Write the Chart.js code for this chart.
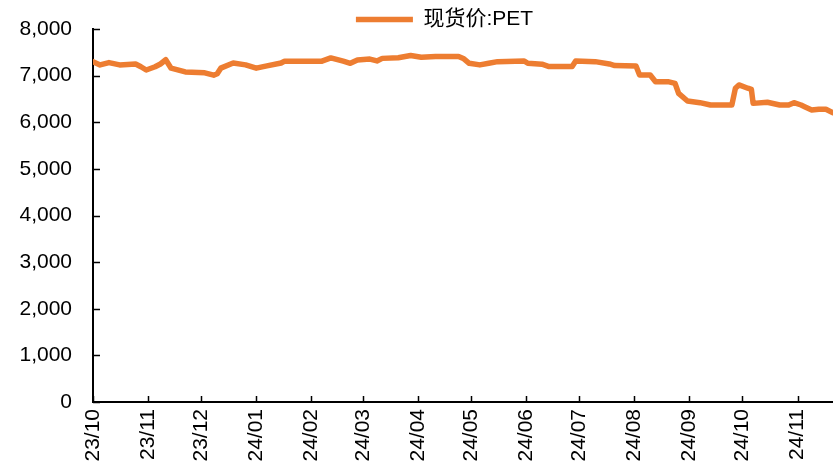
<!DOCTYPE html>
<html>
<head>
<meta charset="utf-8">
<script src="https://cdn.jsdelivr.net/npm/chart.js@4/dist/chart.umd.min.js"></script>
<style>
  body { margin: 0; background: #fff; }
  #wrap { width: 833px; height: 470px; }
</style>
</head>
<body>
<div id="wrap"><canvas id="myChart" width="833" height="470"></canvas></div>
<script>
const seriesName = '现货价:PET'

const dates = [
  '2023-10-01', '2023-10-05', '2023-10-10', '2023-10-16', '2023-10-25', '2023-10-28',
  '2023-10-31', '2023-11-05', '2023-11-08', '2023-11-11', '2023-11-14', '2023-11-22',
  '2023-12-03', '2023-12-08', '2023-12-10', '2023-12-12', '2023-12-19', '2023-12-26',
  '2024-01-01', '2024-01-07', '2024-01-15', '2024-01-17', '2024-02-07', '2024-02-12',
  '2024-02-19', '2024-02-23', '2024-02-27', '2024-03-05', '2024-03-09', '2024-03-12',
  '2024-03-21', '2024-03-28', '2024-04-03', '2024-04-11', '2024-04-24', '2024-04-27',
  '2024-04-30', '2024-05-06', '2024-05-11', '2024-05-16', '2024-05-31', '2024-06-02',
  '2024-06-10', '2024-06-14', '2024-06-27', '2024-06-29', '2024-07-10', '2024-07-18',
  '2024-07-21', '2024-08-02', '2024-08-04', '2024-08-10', '2024-08-13', '2024-08-20',
  '2024-08-24', '2024-08-26', '2024-08-31', '2024-09-07', '2024-09-13', '2024-09-25',
  '2024-09-27', '2024-09-29', '2024-10-04', '2024-10-06', '2024-10-07', '2024-10-15',
  '2024-10-22', '2024-10-27', '2024-10-30', '2024-11-03', '2024-11-05', '2024-11-09',
  '2024-11-13', '2024-11-17', '2024-11-21'
]

const prices = [
  7300, 7230, 7280, 7230, 7250, 7190,
  7120, 7190, 7250, 7340, 7160, 7080,
  7060, 7010, 7040, 7160, 7270, 7230,
  7160, 7210, 7270, 7310, 7310, 7380,
  7310, 7265, 7335, 7355, 7315, 7370,
  7385, 7430, 7395, 7410, 7410, 7360,
  7265, 7230, 7265, 7300, 7315, 7265,
  7245, 7195, 7195, 7315, 7300, 7250,
  7215, 7205, 7015, 7015, 6870, 6870,
  6835, 6620, 6455, 6420, 6370, 6370,
  6730, 6800, 6730, 6705, 6405, 6430,
  6370, 6370, 6420, 6370, 6335, 6265,
  6280, 6280, 6205
]

const monthStarts = [
  '2023-10-01', '2023-11-01', '2023-12-01', '2024-01-01', '2024-02-01', '2024-03-01', '2024-04-01',
  '2024-05-01', '2024-06-01', '2024-07-01', '2024-08-01', '2024-09-01', '2024-10-01', '2024-11-01'
]
const tickLabels = [
  '23/10', '23/11', '23/12', '24/01', '24/02', '24/03', '24/04',
  '24/05', '24/06', '24/07', '24/08', '24/09', '24/10', '24/11'
]

const startDate = '2023-10-01'
const endDate = '2024-11-21'

function dayOf(s) {
  let p = s.split('-')
  let base = startDate.split('-')
  return (Date.UTC(+p[0], +p[1] - 1, +p[2]) - Date.UTC(+base[0], +base[1] - 1, +base[2])) / 86400000
}

const ORANGE = '#ED7D31'
const FONT = "'Liberation Sans', 'Noto Sans CJK SC', Arial, sans-serif"

let points = []
for (let i = 0; i < dates.length; i++) {
  points.push({ x: dayOf(dates[i]), y: prices[i] })
}
let tickDays = monthStarts.map(dayOf)

// inward tick marks on both axes, legend nudged to sit over the plot
const innerTicks = {
  id: 'innerTicks',
  afterLayout(chart) {
    if (chart.legend) chart.legend.left += 56
  },
  afterDraw(chart) {
    const ctx = chart.ctx
    const xs = chart.scales.x
    const ys = chart.scales.y
    const area = chart.chartArea
    ctx.save()
    ctx.strokeStyle = '#000'
    ctx.lineWidth = 1.5
    ctx.beginPath()
    for (let i = 0; i < xs.ticks.length; i++) {
      let px = Math.round(xs.getPixelForValue(xs.ticks[i].value)) + 0.5
      ctx.moveTo(px, area.bottom)
      ctx.lineTo(px, area.bottom - 6)
    }
    for (let i = 0; i < ys.ticks.length; i++) {
      let py = Math.round(ys.getPixelForValue(ys.ticks[i].value)) + 0.5
      ctx.moveTo(area.left, py)
      ctx.lineTo(area.left + 7, py)
    }
    ctx.stroke()
    ctx.restore()
  }
}

const data = {
  datasets: [{
    label: seriesName,
    data: points,
    borderColor: ORANGE,
    backgroundColor: ORANGE,
    borderWidth: 5.5,
    borderCapStyle: 'round',
    borderJoinStyle: 'round',
    pointRadius: 0,
    tension: 0
  }]
}

const config = {
  type: 'line',
  data: data,
  plugins: [innerTicks],
  options: {
    responsive: false,
    animation: false,
    layout: { padding: 0 },
    plugins: {
      legend: {
        position: 'top',
        maxHeight: 29,
        labels: {
          usePointStyle: true,
          pointStyle: 'line',
          pointStyleWidth: 57,
          boxWidth: 57,
          padding: 9,
          color: '#000',
          font: { family: FONT, size: 21 }
        }
      },
      tooltip: { enabled: false }
    },
    scales: {
      x: {
        type: 'linear',
        min: 0,
        max: dayOf(endDate),
        afterBuildTicks(scale) {
          scale.ticks = tickDays.map(d => ({ value: d }))
        },
        afterFit(scale) {
          scale.height = 68
        },
        grid: { display: false, drawTicks: false },
        border: { display: true, color: '#000', width: 2 },
        ticks: {
          autoSkip: false,
          minRotation: 90,
          maxRotation: 90,
          padding: 7,
          color: '#000',
          font: { family: FONT, size: 21 },
          callback: function (value) {
            let i = tickDays.indexOf(value)
            return i >= 0 ? tickLabels[i] : ''
          }
        }
      },
      y: {
        min: 0,
        max: 8000,
        afterFit(scale) {
          scale.width = 93
        },
        grid: {
          display: true,
          drawOnChartArea: false,
          drawTicks: true,
          tickLength: 21,
          tickColor: 'rgba(0,0,0,0)'
        },
        border: { display: true, color: '#000', width: 2 },
        ticks: {
          stepSize: 1000,
          padding: 0,
          color: '#000',
          font: { family: FONT, size: 21 },
          callback: v => v.toLocaleString('en-US')
        }
      }
    }
  }
}

const myChart = new Chart(document.getElementById('myChart'), config)
</script>
</body>
</html>
